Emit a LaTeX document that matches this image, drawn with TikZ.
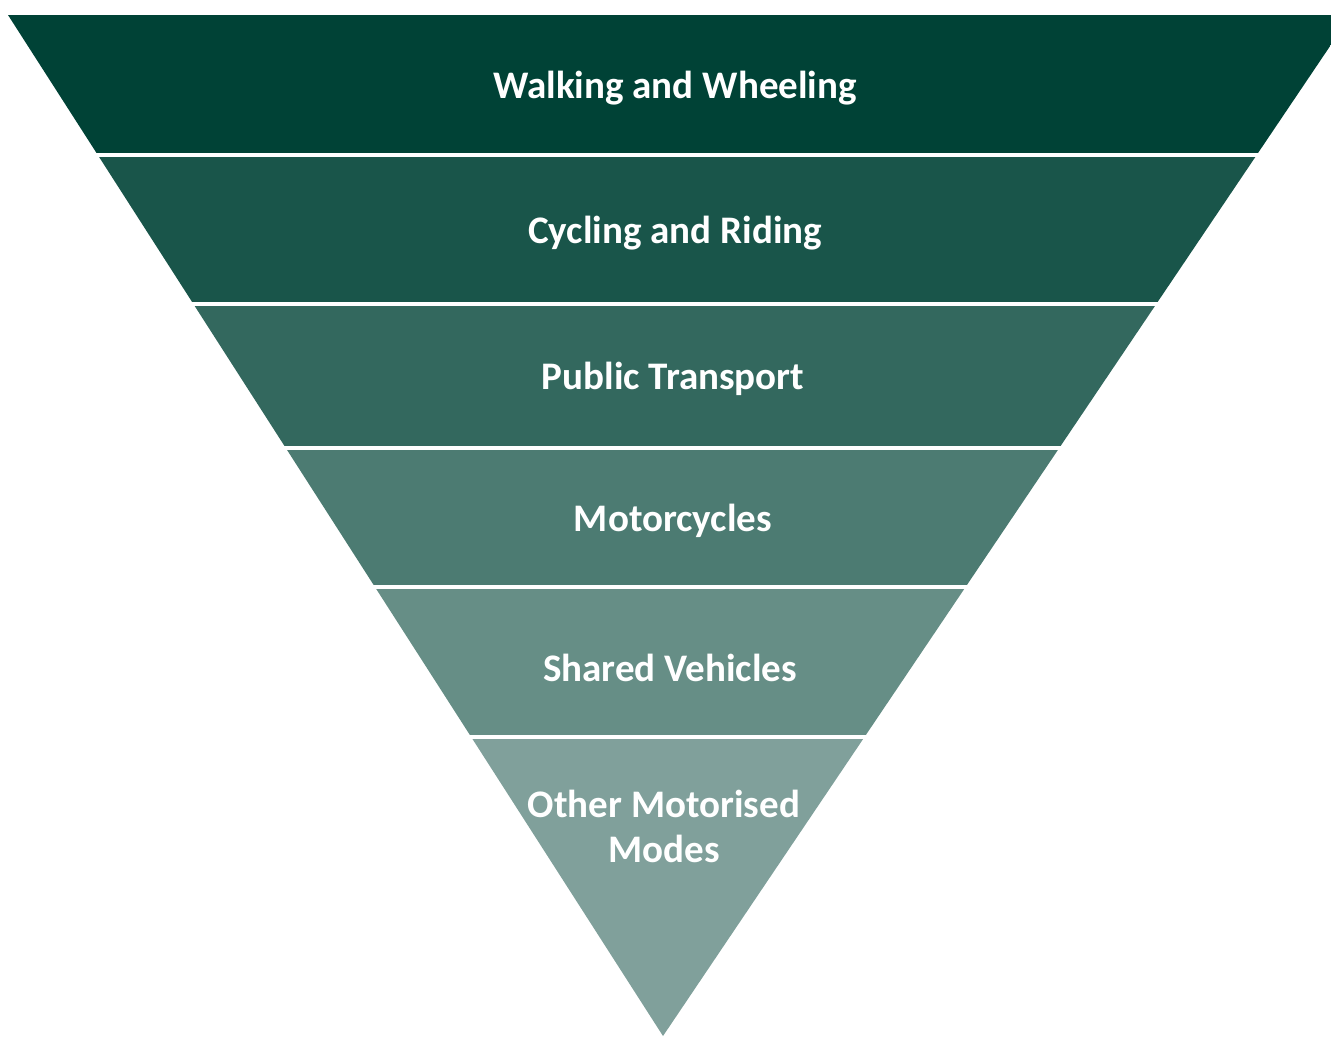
\documentclass[tikz,border=0pt]{standalone}
\usepackage{fontspec}
\setmainfont{Carlito}

\definecolor{pine}{RGB}{0,66,54}

\tikzset{
    tier/.style={font=\bfseries\fontsize{11.1}{12.8}\selectfont, text=white, align=center, inner sep=0pt},
}

\begin{document}
\begin{tikzpicture}[x=0.01cm, y=-0.01cm]
    \useasboundingbox (0,0) rectangle (1331,1036);

    % Tiers of the funnel
    \begin{scope}
        \clip (8,15) -- (1351,15) -- (663,1036) -- cycle;
        \fill[pine]           (0,10)  rectangle (1360,155);
        \fill[pine!90!white]  (0,155) rectangle (1360,304);
        \fill[pine!80!white]  (0,304) rectangle (1360,448);
        \fill[pine!70!white]  (0,448) rectangle (1360,587);
        \fill[pine!60!white]  (0,587) rectangle (1360,737);
        \fill[pine!50!white]  (0,737) rectangle (1360,1040);
    \end{scope}

    % White gaps between tiers
    \foreach \y in {155,304,448,587,737}
        \draw[white, line width=1.2pt] (0,\y) -- (1360,\y);

    % Labels
    \node[tier] (walking)     at (675,88)  {Walking and Wheeling};
    \node[tier] (cycling)     at (675,233) {Cycling and Riding};
    \node[tier] (transport)   at (673,379) {Public Transport};
    \node[tier] (motorcycles) at (673,521) {Motorcycles};
    \node[tier] (shared)      at (670,668) {Shared Vehicles};
    \node[tier] (other)       at (664,826) {Other Motorised\\Modes};
\end{tikzpicture}
\end{document}
